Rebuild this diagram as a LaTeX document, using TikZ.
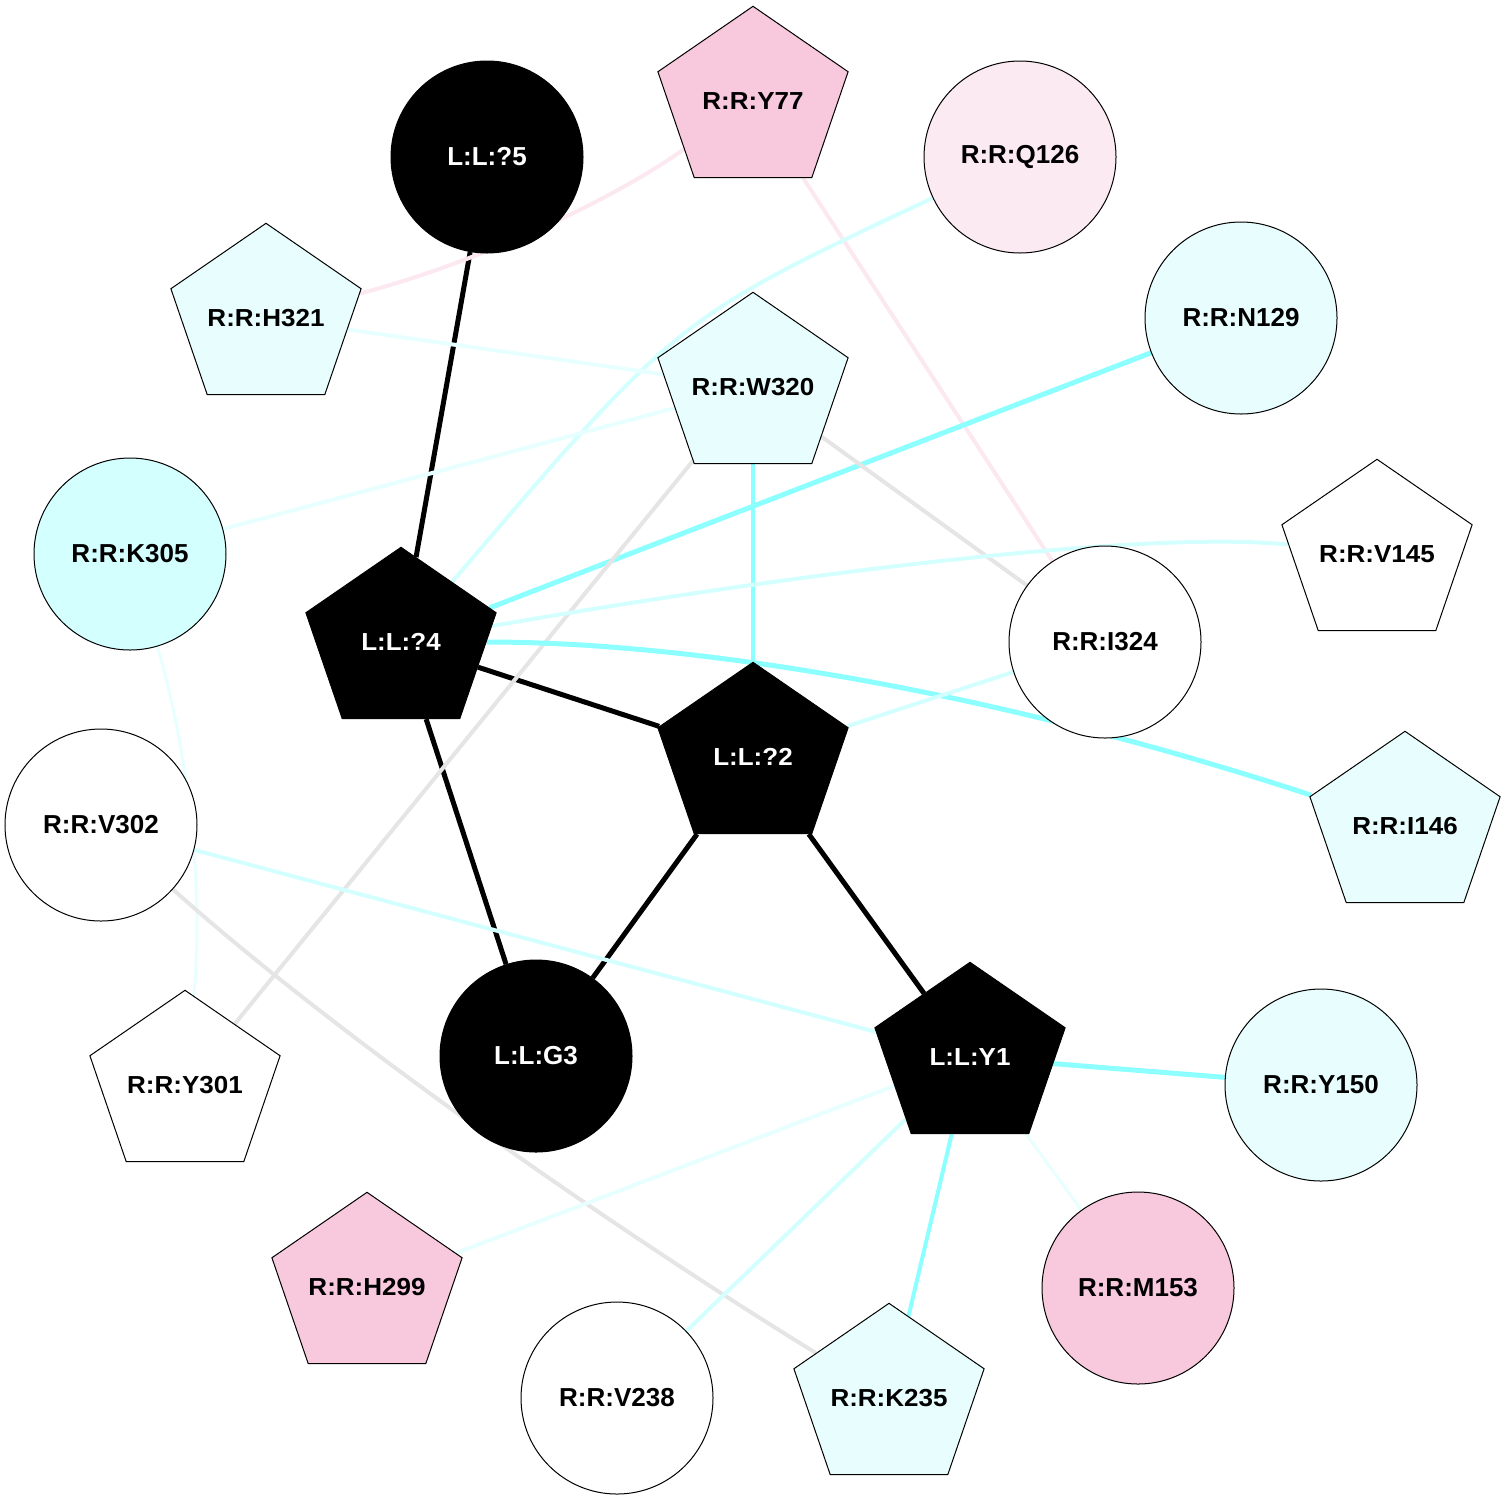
\documentclass[tikz,border=0pt]{standalone}
\usepackage{fontspec}
\setmainfont{Liberation Sans}
\usepackage{tikz}
\usetikzlibrary{shapes.geometric}
\definecolor{pinkres}{RGB}{248,200,220}
\definecolor{pinkpale}{RGB}{252,234,242}
\definecolor{cyanpale}{RGB}{232,254,254}
\definecolor{cyanres}{RGB}{212,255,255}
\definecolor{cyanline}{RGB}{140,255,255}
\definecolor{cyanlt}{RGB}{212,255,255}
\definecolor{cyanvlt}{RGB}{232,255,255}
\definecolor{grayline}{RGB}{229,229,229}
\definecolor{pinkline}{RGB}{252,232,240}
\pgfdeclarelayer{edges}
\pgfsetlayers{edges,main}
\tikzset{
  resnode/.style={
    draw=black, line width=0.5pt,
    inner sep=0pt,
    font=\fontsize{13}{15}\selectfont\bfseries},
  rcircle/.style={resnode, circle, minimum size=96pt},
  rpent/.style={resnode, regular polygon, regular polygon sides=5,
    minimum size=100pt, yscale=0.947,
    execute at begin node={\hbox to 0pt\bgroup\hss},
    execute at end node={\hss\egroup}},
  lig/.style={fill=black, text=white},
  edgeblack/.style={draw=black, line width=2.5pt},
  edgecyan/.style={draw=cyanline, line width=2.5pt},
  edgecyanmid/.style={draw=cyanline, line width=2pt},
  edgecyanlt/.style={draw=cyanlt, line width=2pt},
  edgecyanvlt/.style={draw=cyanvlt, line width=2pt},
  edgegray/.style={draw=grayline, line width=2pt},
  edgepink/.style={draw=pinkline, line width=2pt},
}

\begin{document}
\begin{tikzpicture}[x=0.5pt,y=-0.5pt]
      \useasboundingbox (0,0) rectangle (1507,1500);

      % ligand
      \node[rcircle, lig] (l5) at (487,157) {L:L:?5};
      \node[rpent, lig] (l4) at (401,642) {L:L:?4};
      \node[rpent, lig] (l2) at (753,757) {L:L:?2};
      \node[rcircle, lig] (g3) at (536,1056) {L:L:G3};
      \node[rpent, lig] (l1) at (970,1057) {L:L:Y1};

      % receptor
      \node[rpent, fill=pinkres] (y77) at (753,101) {R:R:Y77};
      \node[rcircle, fill=pinkpale] (q126) at (1020,157) {R:R:Q126};
      \node[rpent, fill=cyanpale] (h321) at (266,318) {R:R:H321};
      \node[rcircle, fill=cyanpale] (n129) at (1241,318) {R:R:N129};
      \node[rpent, fill=cyanpale] (w320) at (753,387) {R:R:W320};
      \node[rcircle, fill=cyanres] (k305) at (130,554) {R:R:K305};
      \node[rpent, fill=white] (v145) at (1377,554) {R:R:V145};
      \node[rcircle, fill=white] (i324) at (1105,642) {R:R:I324};
      \node[rcircle, fill=white] (v302) at (101,825) {R:R:V302};
      \node[rpent, fill=cyanpale] (i146) at (1405,826) {R:R:I146};
      \node[rpent, fill=white] (y301) at (185,1085) {R:R:Y301};
      \node[rcircle, fill=cyanpale] (y150) at (1321,1085) {R:R:Y150};
      \node[rpent, fill=pinkres] (h299) at (367,1287) {R:R:H299};
      \node[rcircle, fill=pinkres] (m153) at (1138,1288) {R:R:M153};
      \node[rcircle, fill=white] (v238) at (617,1398) {R:R:V238};
      \node[rpent, fill=cyanpale] (k235) at (889,1398) {R:R:K235};

      \begin{pgfonlayer}{edges}
      \draw[edgeblack] (l5) -- (l4);
      \draw[edgeblack] (l4) -- (l2);
      \draw[edgeblack] (l4) -- (g3);
      \draw[edgeblack] (l2) -- (g3);
      \draw[edgeblack] (l2) -- (l1);

      \draw[edgepink] (h321) .. controls (450,270) and (590,215) .. (y77);
      \draw[edgepink] (y77) -- (i324);
      \draw[edgecyanlt] (q126) .. controls (677,318) .. (l4);
      \draw[edgecyanvlt] (h321) -- (w320);
      \draw[edgecyan] (n129) -- (l4);
      \draw[edgecyanvlt] (k305) -- (w320);
      \draw[edgecyanmid] (w320) -- (l2);
      \draw[edgegray] (w320) -- (i324);
      \draw[edgegray] (w320) -- (y301);
      \draw[edgecyanlt] (l4) .. controls (800,572) and (1150,530) .. (v145);
      \draw[edgecyan] (l4) .. controls (700,642) and (1000,693) .. (i146);
      \draw[edgecyanlt] (i324) -- (l2);
      \draw[edgecyanvlt, line width=1.5pt] (k305) .. controls (185,740) and (205,880) .. (y301);
      \draw[edgecyanlt] (v302) -- (l1);
      \draw[edgegray] (v302) .. controls (330,1030) and (600,1220) .. (k235);
      \draw[edgecyan] (l1) -- (y150);
      \draw[edgecyanvlt, line width=1.5pt] (l1) -- (m153);
      \draw[edgecyanmid] (l1) -- (k235);
      \draw[edgecyanlt] (l1) -- (v238);
      \draw[edgecyanvlt] (l1) -- (h299);
      \end{pgfonlayer}
    \end{tikzpicture}
\end{document}
